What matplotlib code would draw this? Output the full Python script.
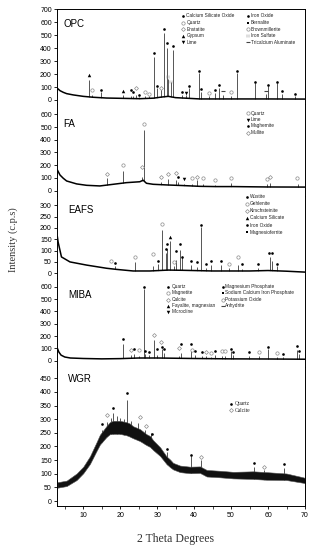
import matplotlib
matplotlib.use('Agg')
import matplotlib.pyplot as plt
from matplotlib.lines import Line2D

# --- DATA ---
X_MAJOR = [10, 20, 30, 40, 50, 60, 70]

# OPC
OPC_BASE_X = [3.0, 3.7, 4.6, 5.5, 7.3, 10.0, 12.7, 16.3, 19.9, 25.3, 29.0, 31.0, 33.0, 35.0, 41.6, 50.6, 59.6, 70.0]
OPC_BASE_Y = [90, 72, 59, 49, 39, 28, 21, 15, 13, 10, 14, 22, 28, 18, 8, 8, 8, 7]
OPC_PEAK_X = [11.55, 12.3, 14.8, 20.85, 22.85, 23.55, 24.35, 25.2, 26.7, 27.9, 29.25, 29.9, 31.05, 31.95,
              32.6, 33.0, 33.7, 34.3, 36.6, 37.7, 38.7, 41.3, 41.8, 44.1, 45.65, 46.75, 47.8, 49.9,
              51.7, 56.5, 59.4, 60.1, 62.35, 63.7, 67.4]
OPC_PEAK_Y = [152, 35, 58, 36, 32, 28, 36, 22, 28, 28, 334, 92, 82, 517,
              405, 165, 138, 386, 36, 36, 90, 206, 60, 28, 55, 95, 36, 32,
              206, 130, 45, 105, 128, 45, 28]
OPC_MARK_X = [11.55, 12.3, 14.8, 20.85, 22.85, 23.55, 24.36, 25.17, 26.71, 27.88, 29.23, 29.87, 31.04,
              31.93, 32.57, 33.0, 33.66, 34.29, 36.63, 37.72, 38.7, 41.32, 41.78, 44.1, 45.65, 46.73,
              47.82, 49.9, 51.69, 56.48, 59.37, 60.08, 62.35, 63.7, 67.39]
OPC_MARK_Y = [190, 75, 77, 69, 77, 62, 90, 41, 59, 49, 365, 108, 90,
              546, 443, 175, 142, 417, 62, 57, 108, 224, 87, 51, 77, 113,
              72, 64, 226, 139, 67, 113, 139, 67, 46]
OPC_MARK_K = ['tri', 'circ', 'dot', 'tri', 'dot', 'dot', 'diam', 'dot', 'circ', 'circ', 'dot', 'dot', 'diam',
              'dot', 'dot', 'eq', 'eq', 'dot', 'dot', 'tri_dn', 'dot', 'dot', 'dot', 'circ', 'dot', 'dot',
              'dash', 'circ', 'dot', 'dot', 'dash', 'dot', 'dot', 'dot', 'dot']
OPC_LEG1_K = ['dot', 'circ', 'diam', 'tri', 'tri_dn']
OPC_LEG1 = ['Calcium Silicate Oxide', 'Quartz', 'Enstatite', 'Gypsum', 'Lime']
OPC_LEG2_K = ['dot', 'sq', 'circ', 'eq', 'dash']
OPC_LEG2 = ['Iron Oxide', 'Bernalite', 'Brownmillerite', 'Iron Sulfate', 'Tricalcium Aluminate']

# FA
FA_BASE_X = [3.0, 3.7, 4.6, 5.5, 8.2, 10.9, 14.5, 18.1, 21.7, 25.3, 26.2, 27.1, 28.9, 32.5, 37.0, 41.5, 46.0, 50.5, 59.6, 70.0]
FA_BASE_Y = [162, 123, 97, 76, 53, 42, 37, 50, 63, 70, 82, 58, 50, 45, 40, 34, 32, 32, 29, 28]
FA_PEAK_X = [16.3, 20.85, 26.0, 26.5, 31.0, 33.0, 35.1, 35.6, 37.2, 39.4, 40.8, 42.5, 45.7, 50.0, 59.6, 60.6, 68.0]
FA_PEAK_Y = [97, 157, 110, 477, 65, 90, 85, 70, 50, 55, 80, 50, 45, 60, 50, 60, 50]
FA_MARK_X = [16.3, 20.85, 26.0, 26.5, 31.0, 33.0, 35.1, 35.55, 37.25, 39.35, 40.8, 42.5, 45.65, 50.0, 59.65, 60.6, 67.95]
FA_MARK_Y = [129, 202, 189, 524, 110, 129, 137, 105, 92, 97, 110, 97, 84, 102, 92, 105, 102]
FA_MARK_K = ['diam', 'circ', 'diam', 'circ', 'diam', 'diam', 'diam', 'dot', 'tri_dn', 'circ', 'diam', 'circ',
             'circ', 'circ', 'circ', 'diam', 'circ']
FA_LEG_K = ['circ', 'tri_dn', 'dot', 'diam']
FA_LEG = ['Quartz', 'Lime', 'Maghemite', 'Mullite']

# EAFS
EAFS_BASE_X = [3.0, 3.2, 4.1, 6.4, 10.9, 16.3, 19.0, 23.5, 28.0, 33.0, 37.0, 45.0, 55.0, 60.0, 65.0, 70.0]
EAFS_BASE_Y = [160, 137, 72, 50, 36, 22, 17, 10, 10, 14, 13, 10, 10, 12, 9, 5]
EAFS_PEAK_X = [18.6, 24.0, 29.0, 30.1, 31.3, 32.3, 32.6, 33.5, 34.5, 35.0, 36.1, 36.6, 39.2, 40.7, 41.9,
               43.2, 44.6, 47.2, 49.5, 52.0, 52.9, 57.4, 60.5, 61.0, 62.5]
EAFS_PEAK_Y = [30, 51, 30, 40, 191, 90, 109, 142, 30, 58, 104, 72, 36, 29, 203,
               22, 36, 36, 25, 36, 20, 25, 72, 55, 30]
EAFS_MARK_X = [17.5, 18.6, 24.0, 29.0, 30.1, 31.3, 32.3, 32.6, 33.5, 34.5, 35.0, 36.1, 36.6, 39.2, 40.7,
               41.9, 43.2, 44.6, 47.2, 49.5, 52.0, 52.9, 57.4, 60.3, 61.0, 62.5]
EAFS_MARK_Y = [55, 46, 72, 84, 55, 217, 106, 127, 162, 49, 97, 130, 70, 55, 48,
               214, 40, 55, 55, 43, 72, 39, 40, 91, 91, 43]
EAFS_MARK_K = ['circ', 'dot', 'circ', 'circ', 'dot', 'circ', 'dot', 'dot', 'tri', 'circ', 'dot', 'dot', 'dot',
               'dot', 'dot', 'dot', 'dot', 'dot', 'dot', 'circ', 'circ', 'dot', 'dot', 'dot', 'dot', 'dot']
EAFS_LEG_K = ['dot', 'circ', 'diam', 'tri', 'dot', 'sq']
EAFS_LEG = ['Wustite', 'Gehlenite', 'Kirschsteinite', 'Calcium Silicate', 'Iron Oxide', 'Magnesioferrite']

# MIBA
MIBA_BASE_X = [3.0, 3.4, 4.0, 5.0, 6.5, 10.0, 15.0, 20.0, 25.0, 30.0, 35.0, 40.0, 50.0, 60.0, 70.0]
MIBA_BASE_Y = [100, 70, 45, 30, 22, 18, 15, 17, 22, 22, 20, 18, 15, 14, 12]
MIBA_PEAK_X = [20.85, 22.8, 23.7, 25.0, 26.5, 26.8, 27.7, 29.1, 30.0, 31.2, 31.8, 35.9, 36.4, 39.2, 40.2,
               42.2, 43.1, 44.5, 45.7, 47.5, 48.3, 50.1, 50.5, 54.8, 57.5, 60.0, 62.5, 64.1, 67.7, 68.4]
MIBA_PEAK_Y = [133, 45, 55, 40, 585, 55, 45, 168, 50, 95, 60, 40, 60, 95, 45,
               40, 35, 30, 45, 40, 40, 75, 45, 40, 40, 95, 30, 30, 90, 55]
MIBA_MARK_X = [20.85, 22.8, 23.7, 25.0, 26.5, 26.8, 27.7, 29.1, 30.0, 31.1, 31.2, 31.8, 35.9, 36.4, 39.2,
               39.3, 40.2, 42.2, 43.1, 44.5, 45.7, 47.5, 48.3, 50.1, 50.5, 54.8, 57.5, 60.0, 62.5, 64.1,
               67.7, 68.4]
MIBA_MARK_Y = [176, 87, 95, 87, 600, 79, 73, 208, 95, 154, 114, 92, 100, 135, 133,
               87, 81, 68, 68, 60, 79, 81, 81, 95, 68, 68, 73, 114, 60, 54,
               119, 79]
MIBA_MARK_K = ['dot', 'diam', 'dot', 'circ', 'dot', 'dot', 'dot', 'diam', 'dot', 'diam', 'dot', 'dot', 'diam',
               'dot', 'dot', 'circ', 'dot', 'dot', 'diam', 'circ', 'dot', 'circ', 'circ', 'dot', 'dot', 'dot',
               'circ', 'dot', 'circ', 'dot', 'dot', 'dot']
MIBA_LEG1_K = ['dot', 'circ', 'diam', 'tri', 'tri_dn']
MIBA_LEG1 = ['Quartz', 'Magnetite', 'Calcite', 'Fayalite, magnesian', 'Microcline']
MIBA_LEG2_K = ['dot', 'sq', 'circ', 'dash']
MIBA_LEG2 = ['Magnesium Phosphate', 'Sodium Calcium Iron Phosphate', 'Potassium Oxide', 'Anhydrite']

# WGR (noisy band: lower / upper edge)
WGR_BAND_X = [3.0, 5.5, 8.2, 10.0, 11.8, 13.6, 14.5, 16.3, 17.2, 18.1, 19.9, 21.7, 22.6, 23.5, 25.3, 27.1, 28.1,
              28.9, 30.8, 32.5, 33.5, 34.3, 36.2, 38.9, 41.6, 43.4, 47.0, 50.6, 56.0, 59.6, 65.0, 69.5, 70.0]
WGR_LO = [49, 55, 77, 102, 136, 184, 207, 235, 245, 246, 246, 241, 236, 230, 220, 205, 198,
          187, 165, 136, 124, 116, 106, 102, 103, 90, 87, 83, 81, 78, 77, 67, 65]
WGR_HI = [69, 75, 101, 126, 164, 216, 243, 275, 289, 294, 294, 289, 284, 274, 264, 245, 238,
          223, 197, 164, 152, 140, 130, 126, 127, 114, 111, 107, 109, 106, 101, 87, 85]
WGR_PEAK_X = [15.0, 16.5, 17.5, 18.1, 19.0, 20.0, 21.0, 21.75, 23.0, 24.9, 26.6, 28.3, 32.7, 39.2, 41.9,
              56.1, 58.9, 64.3]
WGR_PEAK_Y = [262, 290, 305, 322, 310, 305, 300, 370, 295, 287, 262, 248, 181, 165, 150,
              126, 112, 121]
WGR_MARK_X = [15.0, 16.5, 18.1, 21.75, 25.35, 27.0, 28.5, 32.7, 39.2, 41.9, 56.1, 58.9, 64.3]
WGR_MARK_Y = [281, 315, 342, 395, 309, 275, 245, 190, 169, 161, 140, 126, 135]
WGR_MARK_K = ['dot', 'diam', 'dot', 'dot', 'diam', 'diam', 'dot', 'dot', 'dot', 'diam', 'dot', 'diam', 'dot']
WGR_LEG_K = ['dot', 'diam']
WGR_LEG = ['Quartz', 'Calcite']

# --- STYLE ---
W, H = 313, 550
SANS = 'Liberation Sans'
SERIF = 'Liberation Serif'
GREY = '#8c8c8c'
STYLE = {
    'dot': dict(marker='o', ms=1.9, mfc='k', mec='k', mew=0),
    'circ': dict(marker='o', ms=2.4, mfc='white', mec=GREY, mew=0.5),
    'diam': dict(marker='D', ms=2.0, mfc='white', mec=GREY, mew=0.5),
    'tri': dict(marker='^', ms=2.5, mfc='k', mec='k', mew=0),
    'tri_dn': dict(marker='v', ms=2.5, mfc='k', mec='k', mew=0),
    'sq': dict(marker='s', ms=1.9, mfc='k', mec='k', mew=0),
    'eq': dict(marker='$\\equiv$', ms=2.8, mfc=GREY, mec=GREY, mew=0.2),
    'dash': dict(marker='_', ms=2.6, mfc='#444', mec='#444', mew=0.8),
}


def fx(px):
    return px / W


def fy(py):
    return 1 - py / H


fig = plt.figure(figsize=(W / 100, H / 100), dpi=100)
LEFT, RIGHT = 57.4, 305.0


def make_axes(top, bottom, ylim, yticks, first=False, last=False):
    ax = fig.add_axes([fx(LEFT), fy(bottom), (RIGHT - LEFT) / W, (bottom - top) / H])
    ax.set_xlim(3, 70)
    ax.set_ylim(*ylim)
    ax.set_yticks(yticks)
    ax.spines['top'].set_visible(first)
    ax.spines['bottom'].set_visible(last)
    for s in ax.spines.values():
        s.set_linewidth(0.7)
    ax.tick_params(axis='y', direction='out', length=2.5, width=0.6, pad=1.5, labelsize=5)
    if last:
        ax.set_xticks(X_MAJOR)
        ax.set_xticks([5, 15, 25, 35, 45, 55, 65], minor=True)
        ax.tick_params(axis='x', which='major', direction='out', length=2.5, width=0.6, pad=2, labelsize=5)
        ax.tick_params(axis='x', which='minor', direction='out', length=1.8, width=0.5)
    else:
        ax.tick_params(axis='x', which='both', bottom=False, labelbottom=False)
    for lab in ax.get_yticklabels() + ax.get_xticklabels():
        lab.set_family(SANS)
    ax.patch.set_alpha(0)
    return ax


def draw_marks(ax, mx, my, mk):
    for x, y, k in zip(mx, my, mk):
        ax.plot([x], [y], ls='none', zorder=4, clip_on=False, **STYLE[k])


def draw_pattern(ax, bx, by, pkx, pky, ylo):
    # spikes from the floor, hidden below the baseline by a white fill
    ax.vlines(pkx, ylo, pky, color='#3a3a3a', lw=0.6, zorder=1)
    ax.fill_between(bx, ylo, by, color='white', lw=0, zorder=1.5)
    ax.plot(bx, by, color='k', lw=1.1, zorder=2)


def legend_col(kinds, labels, mpx, tpx, rows, fs=3.4, family=SANS):
    for k, lab, py in zip(kinds, labels, rows):
        fig.add_artist(Line2D([fx(mpx)], [fy(py)], transform=fig.transFigure, ls='none', **STYLE[k]))
        fig.text(fx(tpx), fy(py), lab, fontsize=fs, va='center', ha='left', family=family, color='#222')


def panel_label(txt, px, py):
    fig.text(fx(px), fy(py), txt, fontsize=7, va='center', ha='left', family=SANS)


# OPC
ax = make_axes(9.3, 104, (-31, 700), range(0, 701, 100), first=True)
draw_pattern(ax, OPC_BASE_X, OPC_BASE_Y, OPC_PEAK_X, OPC_PEAK_Y, -31)
draw_marks(ax, OPC_MARK_X, OPC_MARK_Y, OPC_MARK_K)
panel_label('OPC', 63.3, 24)
legend_col(OPC_LEG1_K, OPC_LEG1, 183.3, 186.5, [15.7, 22.7, 29.3, 35.7, 42.3])
legend_col(OPC_LEG2_K, OPC_LEG2, 248.3, 251, [15.7, 22.7, 29.3, 35.7, 42.3])

# FA
ax = make_axes(104, 196, (-42, 681), range(0, 601, 100))
draw_pattern(ax, FA_BASE_X, FA_BASE_Y, FA_PEAK_X, FA_PEAK_Y, -42)
draw_marks(ax, FA_MARK_X, FA_MARK_Y, FA_MARK_K)
panel_label('FA', 63.3, 124)
legend_col(FA_LEG_K, FA_LEG, 248.3, 251, [113.3, 119.5, 126, 132.5])

# EAFS
ax = make_axes(196, 278, (-21, 341), range(0, 301, 50))
draw_pattern(ax, EAFS_BASE_X, EAFS_BASE_Y, EAFS_PEAK_X, EAFS_PEAK_Y, -21)
draw_marks(ax, EAFS_MARK_X, EAFS_MARK_Y, EAFS_MARK_K)
panel_label('EAFS', 68.3, 210)
legend_col(EAFS_LEG_K, EAFS_LEG, 247.3, 250, [196.7, 204, 211, 217.7, 225, 232.3])

# MIBA
ax = make_axes(278, 367, (-51, 671), range(0, 601, 100))
draw_pattern(ax, MIBA_BASE_X, MIBA_BASE_Y, MIBA_PEAK_X, MIBA_PEAK_Y, -51)
draw_marks(ax, MIBA_MARK_X, MIBA_MARK_Y, MIBA_MARK_K)
panel_label('MIBA', 68.3, 295)
legend_col(MIBA_LEG1_K, MIBA_LEG1, 168.3, 171.7, [286.7, 292.7, 299.5, 305.7, 311.7])
legend_col(MIBA_LEG2_K, MIBA_LEG2, 222.7, 225.3, [286.7, 292.7, 299.5, 305.7])

# WGR
ax = make_axes(367, 506, (-18, 491), range(0, 451, 50), last=True)
ax.vlines(WGR_PEAK_X, -18, WGR_PEAK_Y, color='#3a3a3a', lw=0.6, zorder=1)
ax.fill_between(WGR_BAND_X, -18, WGR_LO, color='white', lw=0, zorder=1.5)
ax.fill_between(WGR_BAND_X, WGR_LO, WGR_HI, color='#111', lw=0.4, edgecolor='#555', zorder=2)
draw_marks(ax, WGR_MARK_X, WGR_MARK_Y, WGR_MARK_K)
panel_label('WGR', 68.3, 379)
legend_col(WGR_LEG_K, WGR_LEG, 231, 235, [403.7, 410.3], fs=4, family=SERIF)

# axis titles
fig.text(fx(13), fy(240), 'Intensity (c.p.s)', rotation=90, va='center', ha='center',
         fontsize=7.5, family=SERIF, color='#333')
fig.text(fx(175.6), fy(539), '2 Theta Degrees', ha='center', va='center',
         fontsize=8.5, family=SERIF, color='#333')

fig.savefig('out.png', dpi=100)
